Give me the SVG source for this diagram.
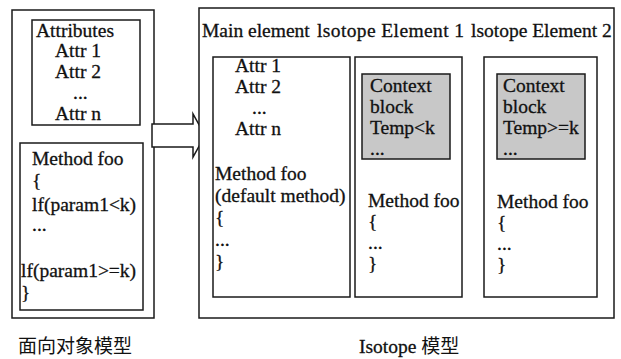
<svg xmlns="http://www.w3.org/2000/svg" width="621" height="359" viewBox="0 0 621 359">
  <style>
    .box { fill: #ffffff; stroke: #1a1a1a; stroke-width: 1.5; }
    .ctx { fill: #c8c8c8; stroke: #1a1a1a; stroke-width: 1.5; }
    text { font-family: "Liberation Serif", "Times New Roman", serif; font-size: 19.5px; fill: #111111; stroke: #111111; stroke-width: 0.3; }
    .cjk { font-family: "Noto Sans CJK SC", sans-serif; font-size: 19px; stroke-width: 0; }
  </style>

  <rect width="621" height="359" fill="#ffffff"/>

  <!-- Object-oriented model -->
  <g id="oo-model">
    <rect class="box" x="12" y="10" width="142" height="308"/>
  </g>
  <g id="oo-attributes">
    <rect class="box" x="32" y="20" width="108" height="105"/>
    <text x="36" y="37">Attributes</text>
    <text x="55" y="57">Attr 1</text>
    <text x="55" y="78">Attr 2</text>
    <text x="73" y="99">...</text>
    <text x="55" y="120">Attr n</text>
  </g>
  <g id="oo-method">
    <rect class="box" x="20" y="143" width="123" height="167"/>
    <text x="32" y="165">Method foo</text>
    <text x="32" y="187">{</text>
    <text x="32" y="211">lf(param1&lt;k)</text>
    <text x="32" y="231">...</text>
    <text x="21" y="277">lf(param1&gt;=k)</text>
    <text x="21" y="299">}</text>
  </g>

  <!-- Transformation arrow -->
  <g id="connectors">
    <path class="box" d="M152,124 L193,124 L193,114 L205,135.5 L193,157 L193,147 L152,147 Z"/>
  </g>

  <!-- Isotope model -->
  <g id="isotope-model">
    <rect class="box" x="199" y="8" width="415" height="310"/>
    <text x="202" y="37">Main element</text>
    <text x="317" y="37" textLength="147" lengthAdjust="spacing">lsotope Element 1</text>
    <text x="471" y="37">lsotope Element 2</text>
  </g>

  <g id="main-element">
    <rect class="box" x="213" y="57" width="137" height="240"/>
    <text x="235" y="72">Attr 1</text>
    <text x="235" y="93">Attr 2</text>
    <text x="252" y="114">...</text>
    <text x="235" y="135">Attr n</text>
    <text x="215" y="180">Method foo</text>
    <text x="215" y="202">(default method)</text>
    <text x="215" y="224">{</text>
    <text x="215" y="246">...</text>
    <text x="215" y="268">}</text>
  </g>

  <g id="isotope-element-1">
    <rect class="box" x="355" y="57" width="107" height="240"/>
    <rect class="ctx" x="362" y="74" width="88" height="85"/>
    <text x="370" y="92">Context</text>
    <text x="370" y="113">block</text>
    <text x="370" y="134">Temp&lt;k</text>
    <text x="370" y="155">...</text>
    <text x="368" y="207">Method foo</text>
    <text x="368" y="228">{</text>
    <text x="368" y="249">...</text>
    <text x="368" y="270">}</text>
  </g>

  <g id="isotope-element-2">
    <rect class="box" x="484" y="57" width="113" height="240"/>
    <rect class="ctx" x="497" y="74" width="88" height="85"/>
    <text x="503" y="92">Context</text>
    <text x="503" y="113">block</text>
    <text x="503" y="134">Temp&gt;=k</text>
    <text x="503" y="155">...</text>
    <text x="497" y="208">Method foo</text>
    <text x="497" y="229">{</text>
    <text x="497" y="250">...</text>
    <text x="497" y="271">}</text>
  </g>

  <!-- Captions -->
  <text class="cjk" x="18" y="353">面向对象模型</text>
  <text x="359" y="353">Isotope <tspan class="cjk">模型</tspan></text>
</svg>
